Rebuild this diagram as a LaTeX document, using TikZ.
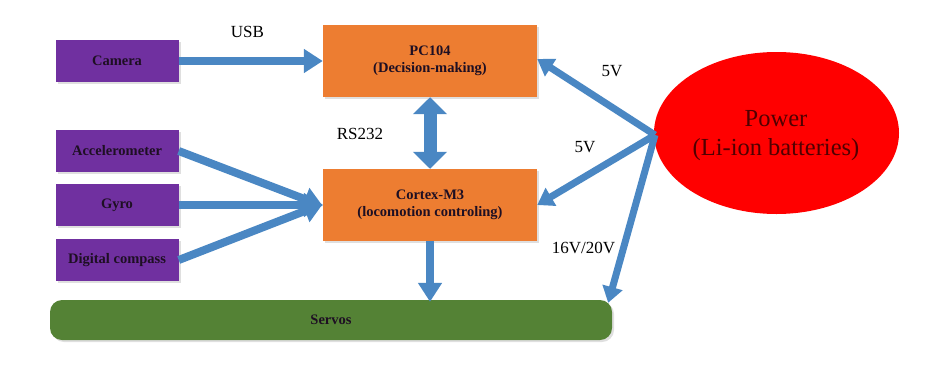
\documentclass[tikz,border=0pt]{standalone}
\usepackage{fontspec}
\setmainfont{Liberation Serif}
\usetikzlibrary{arrows.meta,shadows,shapes.geometric}
\definecolor{sensorpurple}{RGB}{112,48,160}
\definecolor{boxorange}{RGB}{237,125,49}
\definecolor{servogreen}{RGB}{84,130,53}
\definecolor{arrowblue}{RGB}{74,135,195}
\definecolor{powerred}{RGB}{255,0,0}
\definecolor{powertext}{RGB}{80,0,0}
\definecolor{boxtext}{RGB}{30,15,35}
\tikzset{
  boxshadow/.style={drop shadow={opacity=0.25,shadow xshift=2pt,shadow yshift=-2pt}},
  sensor/.style={fill=sensorpurple, draw=none, minimum width=123pt, minimum height=42pt,
    font=\fontsize{14.5}{17}\selectfont\bfseries, text=boxtext, boxshadow},
  cpu/.style={fill=boxorange, draw=none, minimum width=214pt, minimum height=72pt, align=center,
    font=\fontsize{14.5}{16.5}\selectfont\bfseries, text=boxtext, boxshadow},
  link/.style={draw=arrowblue, line width=8pt, -{Triangle[width=23pt,length=19pt]}},
  plink/.style={draw=arrowblue, line width=7pt, -{Triangle[width=20pt,length=16pt]}},
  dlink/.style={draw=arrowblue, line width=13pt, {Triangle[width=33pt,length=17pt]}-{Triangle[width=33pt,length=17pt]}},
  lbl/.style={font=\fontsize{17}{19}\selectfont, text=black, inner sep=0pt},
}
\begin{document}
\begin{tikzpicture}[x=1pt,y=-1pt]
\useasboundingbox (0,0) rectangle (942,367);
\node[sensor] (cam) at (117,61) {Camera};
\node[sensor] (acc) at (117,151) {Accelerometer};
\node[sensor] (gyro) at (117,205) {Gyro};
\node[sensor] (comp) at (117,260) {Digital compass};
\node[cpu] (pc) at (430,61) {PC104\\(Decision-making)};
\node[cpu] (cm) at (430,205) {Cortex-M3\\(locomotion controling)};
\node[fill=servogreen, draw=none, rounded corners=12pt, minimum width=562pt, minimum height=40pt,
  font=\fontsize{14.5}{17}\selectfont\bfseries, text=boxtext, boxshadow] (servo) at (331,320) {Servos};
\node[ellipse, fill=powerred, draw=none, inner sep=0pt, minimum width=245pt, minimum height=162pt] (pow) at (776.5,133) {};
\node[align=center, font=\fontsize{24.5}{29}\selectfont, text=powertext] (powtxt) at (776,136) {Power\\(Li-ion batteries)};
\coordinate (ps) at (655,135);
\draw[link] (cam.east) -- (pc.west);
\draw[link] (acc.east) -- ([yshift=-1pt]cm.west);
\draw[link] (gyro.east) -- (cm.west);
\draw[link] (comp.east) -- ([yshift=1pt]cm.west);
\draw[dlink] (pc.south) -- (cm.north);
\draw[link] (cm.south) -- ([yshift=-2pt]servo.north -| cm.south);
\draw[plink] (ps) -- ([yshift=2pt]pc.east);
\draw[plink] (ps) -- (cm.east);
\draw[plink] (ps) -- ([xshift=-4pt,yshift=-3pt]servo.north east);
\node[lbl] (usb) at (247.5,32) {USB};
\node[lbl] (rs) at (360,134) {RS232};
\node[lbl] (v1) at (612,71.5) {5V};
\node[lbl] (v2) at (585,147.5) {5V};
\node[lbl] (v3) at (583.5,248) {16V/20V};
\end{tikzpicture}
\end{document}
